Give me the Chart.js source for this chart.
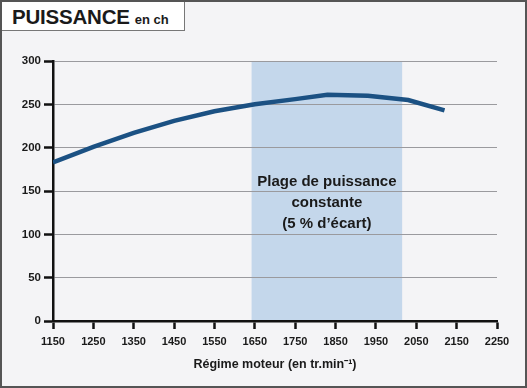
<!DOCTYPE html>
<html>
<head>
<meta charset="utf-8">
<script src="https://cdn.jsdelivr.net/npm/chart.js@4.4.0/dist/chart.umd.min.js"></script>
<style>
    html, body { margin: 0; padding: 0; background: #fff; }
    #frame {
        position: relative;
        width: 523px;
        height: 384px;
        border: 2px solid #555;
        background: #f4f4f6;
        overflow: hidden;
    }
    #title {
        position: absolute;
        left: 0;
        top: 0;
        width: 183px;
        height: 29px;
        background: #fff;
        border-right: 1.5px solid #777;
        border-bottom: 1.5px solid #777;
        font-family: "Liberation Sans", Arial, sans-serif;
        font-weight: bold;
        color: #1a1a1a;
        line-height: 30px;
        padding-left: 10px;
        box-sizing: border-box;
        z-index: 2;
    }
    #title .big { font-size: 20.5px; letter-spacing: -0.2px; }
    #title .small { font-size: 13px; margin-left: 5px; }
    #chartBox { position: absolute; left: -2px; top: -2px; width: 527px; height: 388px; }
</style>
</head>
<body>
<div id="frame">
    <div id="title"><span class="big">PUISSANCE</span><span class="small">en ch</span></div>
    <div id="chartBox"><canvas id="powerChart" width="527" height="388"></canvas></div>
</div>
<script>
// Engine speed (tr/min) and power (ch)
const regime = [1150, 1250, 1350, 1450, 1550, 1650, 1750, 1830, 1930, 2030, 2120];
const puissance = [183, 201, 217, 231, 242, 250, 256, 261, 260, 255, 243];

// Constant power range (shaded band)
const plageDebut = 1642;
const plageFin = 2015;
const plageTexte = ['Plage de puissance', 'constante', '(5 % d\u2019\u00e9cart)'];

const xTitle = 'R\u00e9gime moteur (en tr.min\u207b\u00b9)';

const FONT = '"Liberation Sans", Arial, sans-serif';

// Shaded band, drawn before the grid so gridlines show through it
const bandPlugin = {
    id: 'band',
    beforeDraw(chart) {
        const { ctx, chartArea, scales } = chart;
        const x1 = scales.x.getPixelForValue(plageDebut);
        const x2 = scales.x.getPixelForValue(plageFin);
        ctx.save();
        ctx.fillStyle = '#c4d7eb';
        ctx.fillRect(x1, chartArea.top, x2 - x1, chartArea.bottom - chartArea.top);
        ctx.restore();
    },
    afterDatasetsDraw(chart) {
        const { ctx, scales } = chart;
        const cx = (scales.x.getPixelForValue(plageDebut) + scales.x.getPixelForValue(plageFin)) / 2;
        ctx.save();
        ctx.fillStyle = '#1a1a1a';
        ctx.font = 'bold 15px ' + FONT;
        ctx.textAlign = 'center';
        ctx.textBaseline = 'middle';
        plageTexte.forEach((line, i) => {
            ctx.fillText(line, cx, 182 + i * 21);
        });
        ctx.restore();
    }
};

const ctx = document.getElementById('powerChart').getContext('2d');

new Chart(ctx, {
    type: 'line',
    data: {
        datasets: [{
            data: regime.map((r, i) => ({ x: r, y: puissance[i] })),
            borderColor: '#1b5183',
            borderWidth: 4.5,
            pointRadius: 0,
            tension: 0,
            fill: false
        }]
    },
    options: {
        responsive: false,
        animation: false,
        layout: { padding: { left: 0, right: 30, top: 61, bottom: 0 } },
        plugins: {
            legend: { display: false },
            tooltip: { enabled: false }
        },
        scales: {
            x: {
                type: 'linear',
                min: 1150,
                max: 2250,
                afterFit(scale) { scale.height = 67; },
                ticks: {
                    stepSize: 100,
                    color: '#1a1a1a',
                    font: { family: FONT, weight: 'bold', size: 11 },
                    padding: 6,
                    maxRotation: 0,
                    autoSkip: false,
                    callback: v => String(v)
                },
                grid: {
                    drawOnChartArea: false,
                    tickColor: '#111',
                    tickWidth: 2.5,
                    tickLength: 8
                },
                border: { color: '#111', width: 2.5 },
                title: {
                    display: true,
                    text: xTitle,
                    color: '#1a1a1a',
                    font: { family: FONT, weight: 'bold', size: 12.5 },
                    padding: { top: 4, bottom: 16 }
                }
            },
            y: {
                min: 0,
                max: 300,
                afterFit(scale) { scale.width = 53; },
                ticks: {
                    stepSize: 50,
                    color: '#1a1a1a',
                    font: { family: FONT, weight: 'bold', size: 11.5 },
                    padding: 3,
                    callback: v => String(v)
                },
                grid: {
                    color: '#9a9a9e',
                    lineWidth: 1,
                    tickColor: '#111',
                    tickWidth: 2.5,
                    tickLength: 9
                },
                border: { color: '#111', width: 2.5 }
            }
        }
    },
    plugins: [bandPlugin]
});
</script>
</body>
</html>
